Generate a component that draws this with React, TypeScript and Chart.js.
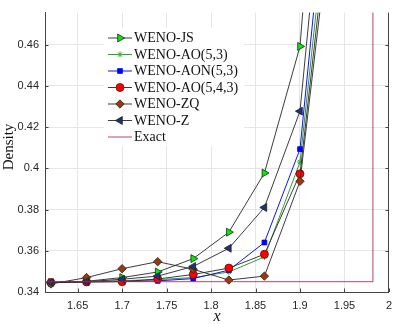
import React, { useEffect, useRef } from "react";
import { Chart, registerables } from "chart.js";
import { drawPoint } from "chart.js/helpers";

Chart.register(...registerables);

// ---- data ----
const xPoints = [1.62, 1.66, 1.7, 1.74, 1.78, 1.82, 1.86, 1.9, 1.94];
const wenoJS = [0.3446, 0.3452, 0.347, 0.3497, 0.3562, 0.369, 0.3977, 0.4591, 0.676];
const wenoAO53 = [0.3446, 0.3451, 0.3455, 0.346, 0.347, 0.3497, 0.357, 0.403, 0.564];
const wenoAON53 = [0.3446, 0.3449, 0.3451, 0.3454, 0.3465, 0.3506, 0.364, 0.4093, 0.583];
const wenoAO543 = [0.3446, 0.3449, 0.345, 0.3463, 0.3485, 0.3516, 0.3583, 0.3973, 0.551];
const wenoZQ = [0.3439, 0.347, 0.3513, 0.3547, 0.351, 0.3458, 0.3477, 0.3937, 0.541];
const wenoZ = [0.3446, 0.345, 0.3462, 0.3477, 0.3524, 0.3612, 0.381, 0.4277, 0.605];
const exactX = [1.6, 1.982, 1.982, 2.02];
const exactY = [0.345, 0.345, 0.9, 0.9];

const seriesNames = ["WENO-JS", "WENO-AO(5,3)", "WENO-AON(5,3)", "WENO-AO(5,4,3)", "WENO-ZQ", "WENO-Z", "Exact"];

const xMin = 1.6133;
const xMax = 2.0;
const yMin = 0.34;
const yMax = 0.4755;

const pair = (xs: number[], ys: number[]) => xs.map((x, i) => ({ x, y: ys[i] }));

type Style = {
  line: string;
  lineWidth: number;
  pointStyle: any;
  rotation: number;
  radius: number;
  fill: string;
  edge: string;
  edgeWidth: number;
};

const styles: Style[] = [
  { line: "rgba(40,40,40,0.9)", lineWidth: 1, pointStyle: "triangle", rotation: 90, radius: 4.6, fill: "#00ee00", edge: "#222", edgeWidth: 0.8 },
  { line: "#2f9e2f", lineWidth: 1, pointStyle: "star", rotation: 0, radius: 3, fill: "#2fae2f", edge: "#2fae2f", edgeWidth: 1 },
  { line: "#1010ff", lineWidth: 1, pointStyle: "rect", rotation: 0, radius: 3.4, fill: "#0000ff", edge: "#0000ff", edgeWidth: 0.8 },
  { line: "rgba(40,40,40,0.9)", lineWidth: 1, pointStyle: "circle", rotation: 0, radius: 4, fill: "#ff0000", edge: "#5a1010", edgeWidth: 0.8 },
  { line: "rgba(40,40,40,0.9)", lineWidth: 1, pointStyle: "rectRot", rotation: 0, radius: 4.2, fill: "#9a3a08", edge: "#222", edgeWidth: 0.8 },
  { line: "rgba(40,40,40,0.9)", lineWidth: 1, pointStyle: "triangle", rotation: -90, radius: 4.6, fill: "#1b3478", edge: "#222", edgeWidth: 0.8 },
  { line: "rgba(170,40,70,0.85)", lineWidth: 1, pointStyle: false, rotation: 0, radius: 0, fill: "#a2142f", edge: "#a2142f", edgeWidth: 0 },
];

const overlayPlugin = {
  id: "overlay",
  afterDraw(chart: any) {
    const ctx: CanvasRenderingContext2D = chart.ctx;
    const area = chart.chartArea;
    const xs = chart.scales.x;
    const ys = chart.scales.y;
    ctx.save();
    // right frame line
    ctx.strokeStyle = "#444";
    ctx.lineWidth = 1;
    ctx.beginPath();
    ctx.moveTo(Math.round(area.right) - 0.5, area.top);
    ctx.lineTo(Math.round(area.right) - 0.5, area.bottom);
    ctx.stroke();
    // inward tick marks
    const tl = 3.5;
    ctx.beginPath();
    ys.ticks.forEach((t: any) => {
      const py = Math.round(ys.getPixelForValue(t.value)) + 0.5;
      ctx.moveTo(area.left, py);
      ctx.lineTo(area.left + tl, py);
      ctx.moveTo(area.right, py);
      ctx.lineTo(area.right - tl, py);
    });
    xs.ticks.forEach((t: any) => {
      const px = Math.round(xs.getPixelForValue(t.value)) + 0.5;
      ctx.moveTo(px, area.bottom);
      ctx.lineTo(px, area.bottom - tl);
    });
    ctx.stroke();

    // axis titles
    ctx.fillStyle = "#111";
    ctx.textAlign = "center";
    ctx.textBaseline = "middle";
    ctx.font = "italic 16px 'Liberation Serif', serif";
    ctx.fillText("x", (area.left + area.right) / 2, 317);
    ctx.save();
    ctx.translate(9, 147);
    ctx.rotate(-Math.PI / 2);
    ctx.font = "15px 'Liberation Serif', serif";
    ctx.fillText("Density", 0, 0);
    ctx.restore();

    // legend
    const lx = 104, ly = 28, lw = 140, lh = 118;
    ctx.fillStyle = "#ffffff";
    ctx.fillRect(lx, ly, lw, lh);
    const rowH = 16.5;
    seriesNames.forEach((name, i) => {
      const s = styles[i];
      const cy = 38 + i * rowH;
      ctx.strokeStyle = s.line;
      ctx.lineWidth = s.lineWidth;
      ctx.beginPath();
      ctx.moveTo(108, cy);
      ctx.lineTo(132, cy);
      ctx.stroke();
      if (s.pointStyle) {
        ctx.fillStyle = s.fill;
        ctx.strokeStyle = s.edge;
        ctx.lineWidth = s.edgeWidth;
        drawPoint(ctx, { pointStyle: s.pointStyle, rotation: s.rotation, radius: s.radius, borderWidth: s.edgeWidth } as any, 120, cy);
      }
      ctx.fillStyle = "#111";
      ctx.textAlign = "left";
      ctx.textBaseline = "middle";
      ctx.font = "14px 'Liberation Serif', serif";
      ctx.fillText(name, 134, cy + 0.5);
    });
    ctx.restore();
  },
};

export default function App() {
  const ref = useRef<HTMLCanvasElement | null>(null);
  useEffect(() => {
    document.body.style.margin = "0";
    const canvas = ref.current;
    if (!canvas) return;
    const seriesY = [wenoJS, wenoAO53, wenoAON53, wenoAO543, wenoZQ, wenoZ];
    const datasets: any[] = seriesY.map((ys, i) => {
      const s = styles[i];
      return {
        label: seriesNames[i],
        data: pair(xPoints, ys),
        borderColor: s.line,
        borderWidth: s.lineWidth,
        pointStyle: s.pointStyle,
        pointRotation: s.rotation,
        pointRadius: s.radius,
        pointBackgroundColor: s.fill,
        pointBorderColor: s.edge,
        pointBorderWidth: s.edgeWidth,
        tension: 0,
        fill: false,
        order: 6 - i,
      };
    });
    datasets.push({
      label: seriesNames[6],
      data: pair(exactX, exactY),
      borderColor: styles[6].line,
      borderWidth: 1,
      pointRadius: 0,
      tension: 0,
      fill: false,
      order: 0,
    });

    const tickFmt = (v: any) => String(+Number(v).toFixed(4));
    const chart = new Chart(canvas, {
      type: "line",
      data: { datasets },
      options: {
        animation: false,
        responsive: false,
        devicePixelRatio: 1,
        layout: { padding: { top: 0, right: 6, left: 0, bottom: 0 } },
        plugins: { legend: { display: false }, tooltip: { enabled: false } },
        scales: {
          x: {
            type: "linear",
            min: xMin,
            max: xMax,
            grid: { color: "#e6e6e6", drawTicks: false },
            border: { display: true, color: "#444", width: 1 },
            ticks: {
              stepSize: 0.05,
              includeBounds: false,
              padding: 7,
              color: "#262626",
              font: { family: "'Liberation Sans', Arial, sans-serif", size: 11 },
              maxRotation: 0,
              autoSkip: false,
              callback: tickFmt,
            },
            afterFit: (s: any) => {
              s.height = 32;
            },
          },
          y: {
            type: "linear",
            min: yMin,
            max: yMax,
            grid: { color: "#e6e6e6", drawTicks: false },
            border: { display: true, color: "#444", width: 1 },
            ticks: {
              stepSize: 0.02,
              includeBounds: false,
              padding: 6,
              color: "#262626",
              font: { family: "'Liberation Sans', Arial, sans-serif", size: 11 },
              autoSkip: false,
              callback: tickFmt,
            },
            afterFit: (s: any) => {
              s.width = 45;
            },
          },
        },
      } as any,
      plugins: [overlayPlugin],
    });
    return () => chart.destroy();
  }, []);
  return (
    <div style={{ width: 399, height: 324 }}>
      <canvas ref={ref} width={399} height={324} style={{ display: "block" }} />
    </div>
  );
}
